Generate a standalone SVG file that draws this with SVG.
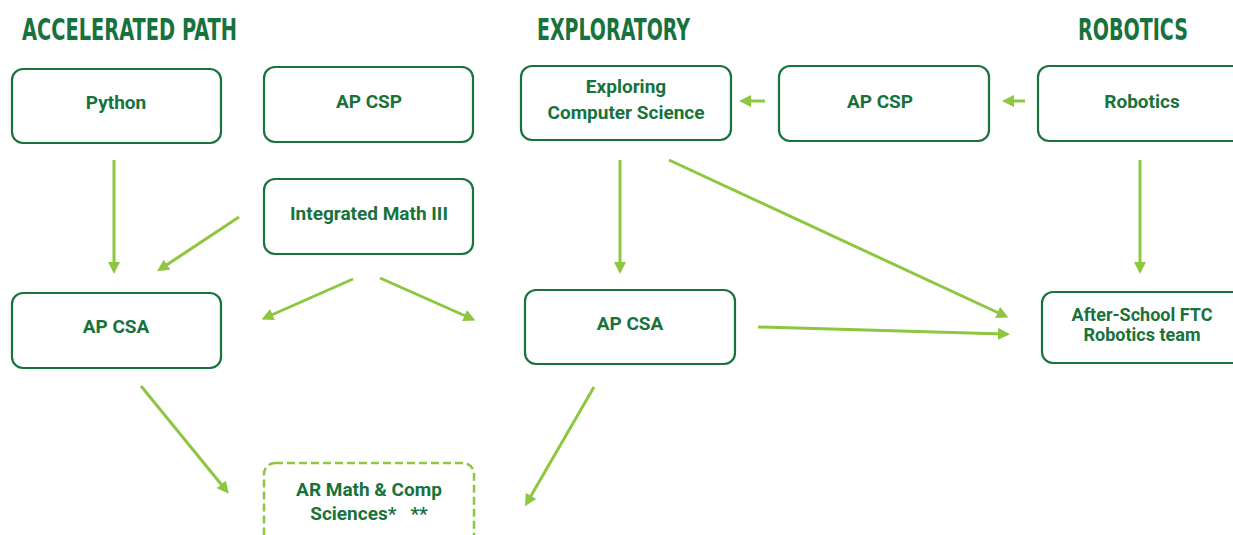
<svg xmlns="http://www.w3.org/2000/svg" width="1233" height="535" viewBox="0 0 1233 535">
  <style>
    .title { font-family: "Liberation Sans Narrow", "DejaVu Sans Condensed", "Liberation Sans", sans-serif; font-weight: bold; font-size: 30px; fill: #17723c; }
    .box { fill: #ffffff; stroke: #17723c; stroke-width: 2.2; }
    .box-dashed { fill: #ffffff; stroke: #8dc63f; stroke-width: 2.5; stroke-dasharray: 8 4; }
    .label { font-family: "Roboto", "Liberation Sans", sans-serif; font-weight: bold; font-size: 19px; fill: #17723c; text-anchor: middle; }
    .label-tight { font-size: 18px; }
    .edge { stroke: #8dc63f; stroke-width: 3; fill: none; marker-end: url(#arrow); }
  </style>
  <defs>
    <marker id="arrow" viewBox="0 0 10 10" refX="5" refY="5" markerWidth="4" markerHeight="4" orient="auto" markerUnits="strokeWidth">
      <path d="M0,0 L10,5 L0,10 Z" fill="#8dc63f"/>
    </marker>
  </defs>
  <rect width="1233" height="535" fill="#ffffff"/>

  <!-- Column headings -->
  <text class="title" x="22" y="40" textLength="215" lengthAdjust="spacingAndGlyphs">ACCELERATED PATH</text>
  <text class="title" x="537" y="40" textLength="153" lengthAdjust="spacingAndGlyphs">EXPLORATORY</text>
  <text class="title" x="1078" y="40" textLength="110" lengthAdjust="spacingAndGlyphs">ROBOTICS</text>

  <!-- Connectors -->
  <g id="connectors">
    <line class="edge" x1="114" y1="160" x2="114" y2="268"/>
    <line class="edge" x1="239" y1="217" x2="162" y2="268"/>
    <line class="edge" x1="353" y1="279" x2="267" y2="317"/>
    <line class="edge" x1="380" y1="278" x2="470" y2="318"/>
    <line class="edge" x1="620" y1="160" x2="620" y2="268"/>
    <line class="edge" x1="669" y1="160" x2="1003" y2="315"/>
    <line class="edge" x1="758" y1="327" x2="1004" y2="334"/>
    <line class="edge" x1="1140" y1="160" x2="1140" y2="268"/>
    <line class="edge" x1="765" y1="101" x2="745" y2="101"/>
    <line class="edge" x1="1025" y1="101" x2="1008" y2="101"/>
    <line class="edge" x1="141" y1="386" x2="225" y2="489"/>
    <line class="edge" x1="594" y1="387" x2="528" y2="501"/>
  </g>

  <!-- Accelerated path -->
  <g id="python">
    <rect class="box" x="12" y="69" width="209" height="74" rx="11"/>
    <text class="label" x="116" y="109">Python</text>
  </g>
  <g id="ap-csp-accel">
    <rect class="box" x="264" y="67" width="209" height="75" rx="11"/>
    <text class="label" x="369" y="108">AP CSP</text>
  </g>
  <g id="integrated-math">
    <rect class="box" x="264" y="179" width="209" height="75" rx="11"/>
    <text class="label" x="369" y="220">Integrated Math III</text>
  </g>
  <g id="ap-csa-accel">
    <rect class="box" x="12" y="293" width="209" height="75" rx="11"/>
    <text class="label" x="116" y="333">AP CSA</text>
  </g>
  <g id="ar-math">
    <rect class="box-dashed" x="264" y="463" width="210" height="85" rx="11"/>
    <text class="label" x="369" y="496">AR Math &amp; Comp</text>
    <text class="label" x="369" y="520" xml:space="preserve">Sciences*   **</text>
  </g>

  <!-- Exploratory -->
  <g id="exploring-cs">
    <rect class="box" x="521" y="66" width="210" height="74" rx="11"/>
    <text class="label" x="626" y="93">Exploring</text>
    <text class="label" x="626" y="119">Computer Science</text>
  </g>
  <g id="ap-csp-expl">
    <rect class="box" x="779" y="66" width="210" height="75" rx="11"/>
    <text class="label" x="880" y="108">AP CSP</text>
  </g>
  <g id="ap-csa-expl">
    <rect class="box" x="525" y="290" width="210" height="74" rx="11"/>
    <text class="label" x="630" y="330">AP CSA</text>
  </g>

  <!-- Robotics -->
  <g id="robotics">
    <rect class="box" x="1038" y="66" width="210" height="75" rx="11"/>
    <text class="label" x="1142" y="108">Robotics</text>
  </g>
  <g id="ftc-team">
    <rect class="box" x="1042" y="292" width="210" height="71" rx="11"/>
    <text class="label label-tight" x="1142" y="321">After-School FTC</text>
    <text class="label label-tight" x="1142" y="341">Robotics team</text>
  </g>
</svg>
